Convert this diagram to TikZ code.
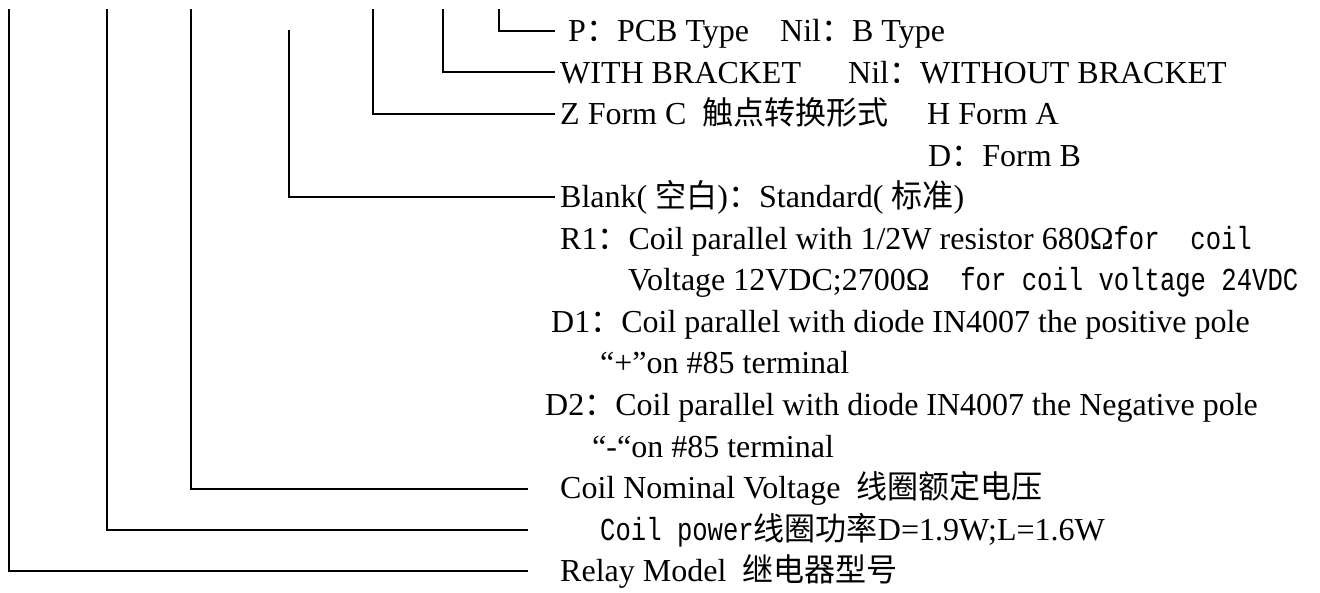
\documentclass[tikz,border=0pt]{standalone}
\usepackage{fontspec}
\setmainfont{Liberation Serif}
\newfontfamily\cjkfont{Noto Sans CJK SC}[FakeStretch=0.97]
\newfontfamily\monofont{Liberation Mono}[FakeStretch=0.80]
\newcommand\zh[1]{{\cjkfont #1}}
\newcommand\mn[1]{{\monofont #1}}
\begin{document}
\begin{tikzpicture}[x=1pt,y=-1pt,
  lbl/.style={anchor=base west,inner sep=0pt,font=\fontsize{32}{38}\selectfont},
  conn/.style={line width=1.6pt}]
\useasboundingbox (0,0) rectangle (1320,593);
% text
\node[lbl] (p1) at (568,42) {P\zh{：}PCB Type};
\node[lbl] (p2) at (780,42) {Nil\zh{：}B Type};
\node[lbl] (w1) at (560,83.5) {WITH BRACKET};
\node[lbl] (w2) at (848,83.5) {Nil\zh{：}WITHOUT BRACKET};
\node[lbl] (z1) at (560,125) {Z Form C \ \zh{触点转换形式}};
\node[lbl] (z2) at (927,125) {H Form A};
\node[lbl] (z3) at (928,166.5) {D\zh{：}Form B};
\node[lbl] (b1) at (560,208) {Blank( \zh{空白})\zh{：}Standard( \zh{标准})};
\node[lbl] (r1) at (560,249.5) {R1\zh{：}Coil parallel with 1/2W resistor 680Ω\mn{for \ coil}};
\node[lbl] (r2) at (628,291) {Voltage 12VDC;2700Ω\mn{ \ for coil voltage 24VDC}};
\node[lbl] (d1) at (551,332.5) {D1\zh{：}Coil parallel with diode IN4007 the positive pole};
\node[lbl] (d1b) at (600,374) {“+”on \#85 terminal};
\node[lbl] (d2) at (545,415.5) {D2\zh{：}Coil parallel with diode IN4007 the Negative pole};
\node[lbl] (d2b) at (592,457) {“-“on \#85 terminal};
\node[lbl] (cv) at (560,498.5) {Coil Nominal Voltage \ \zh{线圈额定电压}};
\node[lbl] (cp) at (600,540) {\mn{Coil power}\zh{线圈功率}D=1.9W;L=1.6W};
\node[lbl] (rm) at (560,581.5) {Relay Model \ \zh{继电器型号}};
% connector coordinates
\coordinate (t1) at (9,9);     \coordinate (e1) at (528,571);
\coordinate (t2) at (107,9);   \coordinate (e2) at (528,530);
\coordinate (t3) at (191,9);   \coordinate (e3) at (528,489);
\coordinate (t4) at (289,30);  \coordinate (e4) at (555,197);
\coordinate (t5) at (373,9);   \coordinate (e5) at (555,114);
\coordinate (t6) at (443,9);   \coordinate (e6) at (555,72);
\coordinate (t7) at (499,9);   \coordinate (e7) at (555,31);
\foreach \i in {1,...,7} {\draw[conn] (t\i) |- (e\i);}
\end{tikzpicture}
\end{document}
